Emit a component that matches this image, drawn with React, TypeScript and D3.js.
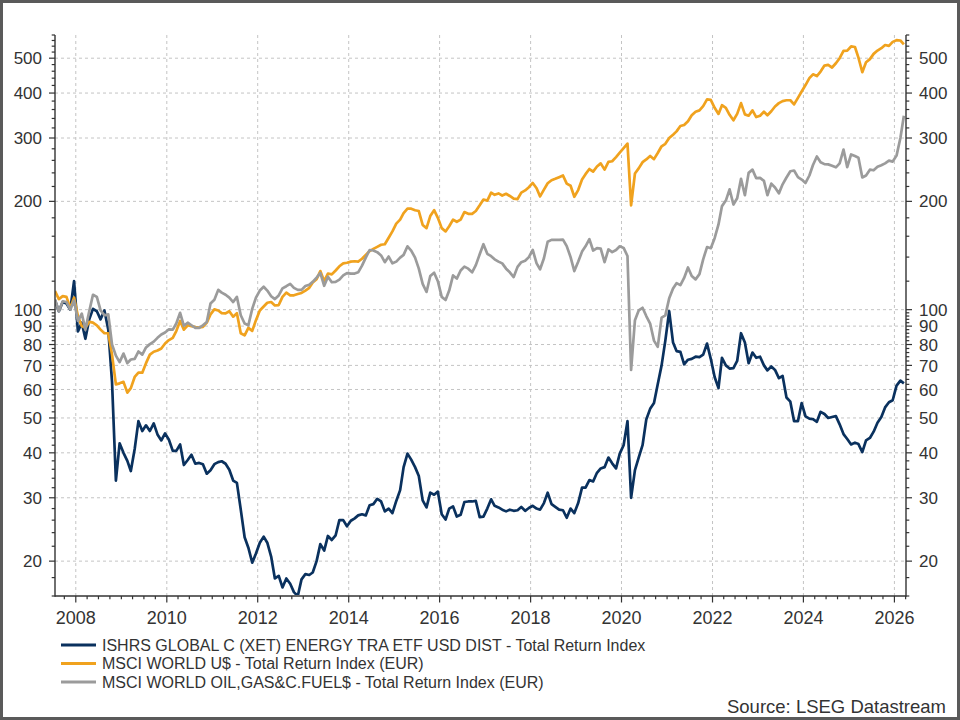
import React, { useEffect, useRef } from "react";
import * as d3 from "d3";

// monthly values, first point mid-July 2007, last point March 2026
const seriesNames = [
  "ISHRS GLOBAL C (XET) ENERGY TRA ETF USD DIST - Total Return Index",
  "MSCI WORLD U$ - Total Return Index (EUR)",
  "MSCI WORLD OIL,GAS&C.FUEL$ - Total Return Index (EUR)",
];
const seriesColors = ["#0a315e", "#f0a21e", "#9b9b9b"];

const ishrsEnergy = [
  106, 99, 105, 104, 100, 120, // 2007 Jul-Dec
  87, 92, 83, 94, 100.5, 99, 94, 99.5, 88, 63, 33.5, 42.5, // 2008
  40, 38, 35.6, 41, 49, 46, 47.7, 46, 48.3, 45, 43.3, 45.3, // 2009
  43.5, 40.5, 40.5, 42.2, 37, 38.2, 39.5, 37.3, 37.5, 37.2, 35, 35.8, // 2010
  37.2, 37.7, 37.9, 37.3, 35.9, 33.5, 33.0, 27.8, 23.3, 21.8, 19.8, 21.0, // 2011
  22.5, 23.4, 22.5, 20.6, 17.9, 18.2, 16.9, 17.9, 17.3, 16.4, 16.0, 17.8, // 2012
  18.4, 18.3, 18.6, 20.0, 22.3, 21.4, 23.5, 22.9, 23.6, 26.0, 26.0, 25.0, // 2013
  25.9, 26.3, 26.8, 27.0, 26.8, 28.6, 28.8, 29.8, 29.3, 27.5, 28.0, 27.2, // 2014
  29.4, 31.5, 36.5, 39.8, 38.3, 36.5, 34.5, 29.5, 28.2, 31.0, 30.6, 31.2, // 2015
  27.0, 26.1, 28.0, 28.4, 26.6, 26.9, 29.2, 29.3, 29.3, 29.4, 26.5, 26.6, // 2016
  28.0, 29.7, 28.5, 28.2, 27.8, 27.5, 27.8, 27.6, 27.7, 28.3, 27.6, 28.1, // 2017
  28.5, 28.0, 27.8, 29.0, 31.0, 28.8, 28.3, 27.8, 27.7, 26.4, 28.0, 27.2, // 2018
  29.0, 32.0, 32.0, 33.6, 33.3, 35.2, 36.2, 36.5, 38.8, 37.4, 36.2, 39.8, // 2019
  42.0, 49.0, 30.0, 35.8, 38.8, 42.0, 49.5, 53.0, 55.0, 62, 70, 82, // 2020
  99, 81, 76.7, 76.3, 70.5, 72.6, 73.0, 74.0, 73.8, 75, 80.5, 73, // 2021
  65, 60.5, 73.5, 70, 68.6, 68.8, 72, 86, 81, 71, 76, 73.5, // 2022
  74, 70, 67.8, 69.5, 68, 64.5, 65.4, 57, 55.5, 49, 49, 55, // 2023
  50.5, 49.8, 49.6, 48.8, 52, 51.3, 50, 50.3, 50.6, 48, 45.1, 43.7, // 2024
  42.2, 42.7, 42.3, 40.2, 43.3, 44, 45.8, 48.5, 50.3, 53.5, 55.3, 56, // 2025
  61.5, 63.5, 62.4, // 2026 Jan-Mar
];

const msciWorld = [
  112.6, 107, 109, 108.5, 101, 108,
  96, 90, 89, 92.5, 92, 90.5, 88, 86, 86, 75, 62, 62.4,
  63, 58.8, 60.5, 65, 66.8, 66.8, 71, 75, 76.4, 77, 78, 80.5,
  82.3, 83.5, 87.2, 93, 88, 90.5, 90, 89.5, 89.2, 89.6, 92, 97,
  100.2, 99.5, 97.8, 97.6, 99, 95.6, 97.8, 86, 84.8, 89, 87.3, 93.5,
  99.5, 102, 104.5, 105, 102.7, 103, 108.5, 111.5, 109.6, 109.6, 110.5, 111.3,
  113, 115, 119, 121.5, 128, 120, 126, 125.3, 128.5, 132, 134.5, 135,
  136, 136.3, 136, 138.5, 142, 145.5, 147.5, 149.5, 151.5, 152, 158.5, 165,
  173.5, 178, 185.5, 191, 190.8, 189, 188, 172, 168.5, 182, 189, 180,
  168.5, 165, 170.5, 178, 175.5, 178, 186.7, 184.7, 184.7, 188, 195, 202.4,
  201, 211.5, 208.5, 210.4, 207.6, 210, 207, 203.5, 203, 211.5, 214.5, 219,
  225, 217.5, 206.4, 215.5, 224.5, 229, 231, 233.5, 236, 224, 221, 206,
  215, 230, 238, 246, 242, 250, 255, 245, 257.5, 258.5, 265.5, 273,
  281, 289.4, 195, 239, 247, 257, 261.5, 267.5, 262, 272.5, 284.5, 289,
  300, 306.5, 313, 324, 326, 334, 347, 355, 358, 368, 384, 383,
  364, 350, 370, 364, 348, 336, 350, 375, 349, 346, 358, 343,
  346, 355, 347, 356, 367, 375, 380, 382, 382, 372, 388, 404,
  421, 440, 451, 446, 459, 477, 479, 471, 484, 500, 524, 525,
  539, 537, 502, 457, 487, 497, 514, 525, 533, 544, 541, 555,
  561, 560, 546,
];

const msciOilGas = [
  106.8, 99, 105.5, 105, 100, 106,
  93, 97.5, 88, 99, 110, 108.5, 99.5, 96.5, 97, 80, 74.5, 71.5,
  75.5, 71, 72.7, 73, 76.5, 75, 78.5, 80.2, 81.5, 83.5, 85.3, 86.4,
  88.2, 88, 91.5, 98, 90.2, 92, 90.5, 89, 89, 90.5, 92.4, 104,
  106.5, 113.5, 111.5, 110, 108, 105, 108.5, 96.5, 91.5, 90.5, 100.5, 108,
  113, 115.8, 113, 109, 107, 109.5, 114.6, 116.2, 118, 115, 113.5, 113.5,
  116.3, 117.3, 119.5, 122.8, 126.5, 116.5, 123.5, 119.2, 119.5, 121.2, 124.5, 126.4,
  125.9, 126, 127, 132.5, 139.5, 146.5, 146, 144.5, 141.5, 135.5, 140.5, 134.5,
  136, 139.5, 142, 150, 146, 139.5, 130, 118, 112, 124, 126.7, 120,
  108.5, 106.4, 113, 124.5, 122, 128.5, 131.7, 130, 127, 133, 142.5, 152,
  143, 140.8, 138, 136, 134.5, 130, 127, 123.2, 131.5, 135.5, 136.7, 140,
  146.5, 134.5, 129.5, 139, 154.5, 156.3, 156.3, 156.4, 156.5, 150.2, 140, 128,
  135.8, 145, 150, 157, 146, 148.3, 147.8, 135.5, 147, 144.5, 146.5, 150,
  148.5, 141, 68, 93.5, 99.5, 101.2, 96, 91.5, 82, 78.8, 95, 96.4,
  107.5, 114.5, 118.5, 117, 122.5, 131, 124, 121.4, 125.5, 138, 149.3, 148.2,
  158, 172.5, 194, 201, 216, 196, 204, 231, 208, 240, 245, 232,
  232.5, 228, 208, 224, 218.5, 210.5, 223, 233, 242.5, 243.6, 233.5, 230,
  225, 236, 252.5, 266.5, 257, 253.8, 253.4, 251.3, 248.7, 255, 278.6, 249,
  270, 267.3, 264.5, 233, 236, 245, 244, 249.5, 252, 255, 259.5, 258,
  268, 300, 346,
];

const yTickLabels = [20, 30, 40, 50, 60, 70, 80, 90, 100, 200, 300, 400, 500];
const xTickYears = [2008, 2010, 2012, 2014, 2016, 2018, 2020, 2022, 2024, 2026];

const font = "'Liberation Sans', Arial, Helvetica, sans-serif";

export default function App() {
  const ref = useRef<SVGSVGElement>(null);

  useEffect(() => {
    const W = 960;
    const H = 720;
    const margin = { top: 35, right: 54, bottom: 124, left: 55 };
    const left = margin.left;
    const right = W - margin.right;
    const top = margin.top;
    const bottom = H - margin.bottom;

    const svg = d3.select(ref.current).attr("width", W).attr("height", H);
    svg.selectAll("*").remove();

    svg.append("rect").attr("width", W).attr("height", H).attr("fill", "#fff");

    const start = new Date(2007, 6, 18);
    const dates = d3.range(ishrsEnergy.length).map((i) => d3.timeMonth.offset(start, i));

    const x = d3.scaleTime().domain([start, new Date(2026, 3, 4)]).range([left, right]);
    const y = d3.scaleLog().domain([16, 580]).range([bottom, top]);

    // grid
    const grid = svg.append("g").attr("stroke", "#c4c4c4").attr("stroke-dasharray", "3,3").attr("stroke-width", 1);
    grid.selectAll("line.h").data(yTickLabels).enter().append("line")
      .attr("x1", left).attr("x2", right)
      .attr("y1", (d) => y(d)).attr("y2", (d) => y(d));
    grid.selectAll("line.v").data(xTickYears).enter().append("line")
      .attr("y1", top).attr("y2", bottom)
      .attr("x1", (d) => x(new Date(d, 0, 1))).attr("x2", (d) => x(new Date(d, 0, 1)));

    // lines
    svg.append("clipPath").attr("id", "plotclip").append("rect")
      .attr("x", left).attr("y", top - 2).attr("width", right - left).attr("height", bottom - top + 1);

    const line = d3.line<number>()
      .x((_, i) => x(dates[i]))
      .y((d) => y(d));

    const all = [ishrsEnergy, msciWorld, msciOilGas];
    const lines = svg.append("g").attr("clip-path", "url(#plotclip)");
    all.forEach((values, k) => {
      lines.append("path")
        .attr("d", line(values))
        .attr("fill", "none")
        .attr("stroke", seriesColors[k])
        .attr("stroke-width", 2.7)
        .attr("stroke-linejoin", "round");
    });

    // axes
    const axisColor = "#333";
    const ax = svg.append("g").attr("stroke", axisColor).attr("stroke-width", 1.4);
    ax.append("line").attr("x1", left).attr("x2", left).attr("y1", top).attr("y2", bottom + 0.7);
    ax.append("line").attr("x1", right).attr("x2", right).attr("y1", top).attr("y2", bottom + 0.7);
    ax.append("line").attr("x1", left).attr("x2", right).attr("y1", bottom).attr("y2", bottom);

    const minorY = d3.range(16, 100, 2).concat(d3.range(120, 581, 20)).filter((v) => !yTickLabels.includes(v));
    const tk = svg.append("g").attr("stroke", axisColor).attr("stroke-width", 1.2);
    [left, right].forEach((ax0, side) => {
      const dir = side === 0 ? -1 : 1;
      tk.selectAll(null).data(yTickLabels).enter().append("line")
        .attr("x1", ax0).attr("x2", ax0 + dir * 6)
        .attr("y1", (d) => y(d)).attr("y2", (d) => y(d));
      tk.selectAll(null).data(minorY).enter().append("line")
        .attr("x1", ax0).attr("x2", ax0 + dir * 3.3)
        .attr("y1", (d) => y(d)).attr("y2", (d) => y(d));
    });
    const quarters = d3.timeMonth.every(3)!.range(start, new Date(2026, 3, 4));
    tk.selectAll(null).data(quarters).enter().append("line")
      .attr("x1", (d) => x(d)).attr("x2", (d) => x(d))
      .attr("y1", bottom).attr("y2", (d) => (d.getMonth() === 0 && d.getFullYear() % 2 === 0 ? bottom + 6.5 : bottom + 3.3));

    // tick labels
    const labels = svg.append("g").attr("font-family", font).attr("fill", "#333");
    labels.selectAll(null).data(yTickLabels).enter().append("text")
      .attr("x", left - 13).attr("y", (d) => y(d)).attr("dy", "0.36em")
      .attr("font-size", 17).attr("text-anchor", "end").text((d) => String(d));
    labels.selectAll(null).data(yTickLabels).enter().append("text")
      .attr("x", right + 13).attr("y", (d) => y(d)).attr("dy", "0.36em")
      .attr("font-size", 17).attr("text-anchor", "start").text((d) => String(d));
    labels.selectAll(null).data(xTickYears).enter().append("text")
      .attr("x", (d) => x(new Date(d, 0, 1))).attr("y", bottom + 28)
      .attr("font-size", 18).attr("text-anchor", "middle").text((d) => String(d));

    // legend
    const legend = svg.append("g").attr("font-family", font).attr("font-size", 16).attr("fill", "#333");
    seriesNames.forEach((name, i) => {
      const ly = 645 + i * 18.5;
      legend.append("line").attr("x1", 61).attr("x2", 96).attr("y1", ly).attr("y2", ly)
        .attr("stroke", seriesColors[i]).attr("stroke-width", 3);
      legend.append("text").attr("x", 102).attr("y", ly).attr("dy", "0.35em").text(name);
    });

    svg.append("text").attr("x", 946).attr("y", 713).attr("text-anchor", "end")
      .attr("font-family", font).attr("font-size", 18.5).attr("fill", "#333")
      .text("Source: LSEG Datastream");

    // outer frame
    svg.append("rect").attr("x", 1.5).attr("y", 1.5).attr("width", W - 3).attr("height", H - 3)
      .attr("fill", "none").attr("stroke", "#5a5a5a").attr("stroke-width", 3);
  }, []);

  return (
    <div style={{ position: "fixed", left: 0, top: 0 }}>
      <svg ref={ref} style={{ display: "block" }}></svg>
    </div>
  );
}
